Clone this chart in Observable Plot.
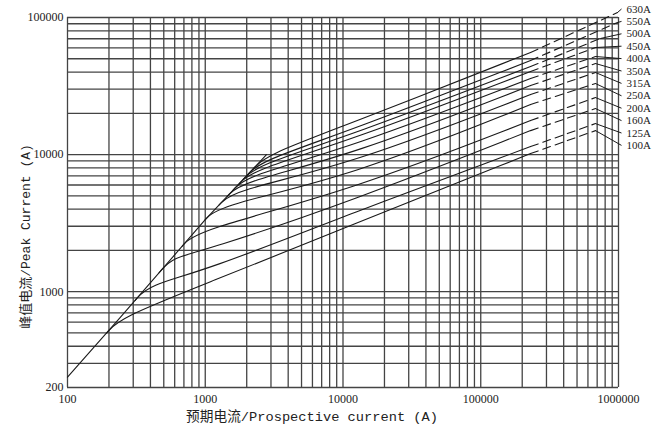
<!DOCTYPE html>
<html><head><meta charset="utf-8">
<script src="https://cdn.jsdelivr.net/npm/d3@7"></script>
<script src="https://cdn.jsdelivr.net/npm/@observablehq/plot@0.6"></script>
<style>
html,body{margin:0;padding:0;background:#fff;}
#chart{width:652px;height:430px;}
</style></head><body><div id="chart"></div>
<script>
// ---- data ----
const ratings = ["100A","125A","160A","200A","250A","315A","350A","400A","450A","500A","550A","630A"];
const xTicks = [100, 1000, 10000, 100000, 1000000];
const yTicks = [200, 1000, 10000, 100000];
// common rising envelope (unlimited peak)
const envelope = [[100, 238], [240, 645], [1000, 3350], [2784, 9980]];
// solid part of each cut-off curve, one array per rating
const c100 = [[192, 499], [240, 645], [1000, 1140], [11300, 3030], [230000, 10170]];
const c125 = [[310, 865], [387, 1119], [1000, 1420], [11300, 3710], [230000, 11440]];
const c160 = [[462, 1374], [578, 1778], [1000, 2000], [11300, 4540], [230000, 14960]];
const c200 = [[680, 2145], [850, 2775], [11300, 5460], [230000, 17710]];
const c250 = [[1000, 3350], [1248, 4241], [11300, 6910], [230000, 23170]];
const c315 = [[1262, 4292], [1577, 5447], [11300, 8450], [230000, 27400]];
const c350 = [[1442, 4949], [1803, 6282], [11300, 9830], [230000, 31880]];
const c400 = [[1594, 5507], [1993, 6988], [11300, 11250], [230000, 35890]];
const c450 = [[1734, 6023], [2167, 7636], [11300, 12650], [230000, 40360]];
const c500 = [[1885, 6586], [2356, 8351], [11300, 13760], [230000, 43870]];
const c550 = [[2014, 7065], [2518, 8965], [11300, 14960], [230000, 48530]];
const c630 = [[2227, 7866], [2784, 9980], [11300, 16830], [230000, 55530]];
// end of the dashed extension of each curve (same order as ratings)
const dashEnds = [[681000, 14960], [681000, 16830], [681000, 21660], [681000, 26060],
  [681000, 32980], [681000, 39680], [681000, 46150], [681000, 51930],
  [681000, 60390], [740000, 70300], [984000, 91940], [984000, 108800]];

// ---- layout ----
const W = 652, H = 430, mt = 17, mr = 34, mb = 43, ml = 67;
const solid = [c100, c125, c160, c200, c250, c315, c350, c400, c450, c500, c550, c630];
const solidRows = solid.flatMap((pts, i) => pts.map(([x, y]) => ({rating: ratings[i], x, y})));
const dashRows = solid.flatMap((pts, i) => {
  const last = pts[pts.length - 1];
  return [{rating: ratings[i], x: last[0], y: last[1]}, {rating: ratings[i], x: dashEnds[i][0], y: dashEnds[i][1]}];
});
const envRows = envelope.map(([x, y]) => ({x, y}));
const yScale = Plot.scale({y: {type: "log", domain: [200, 100000], range: [H - mb, mt]}});
const xScale = Plot.scale({x: {type: "log", domain: [100, 1000000], range: [ml, W - mr]}});
const leaderX = xScale.invert(W - mr + 3);
const labelRows = ratings.map((r, i) => ({
  rating: r,
  ex: dashEnds[i][0], ey: dashEnds[i][1],
  ly: yScale.invert(8.5 + 12.4 * (ratings.length - 1 - i))
}));
const xGrid = d3.scaleLog().domain([100, 1000000]).ticks();
const yGrid = d3.scaleLog().domain([200, 100000]).ticks();
const mixFont = "'Liberation Mono','Noto Sans CJK SC',monospace";

const chart = Plot.plot({
  width: W, height: H,
  marginTop: mt, marginRight: mr, marginBottom: mb, marginLeft: ml,
  style: {fontFamily: "'Liberation Serif', serif", fontSize: "12px", background: "#fff", color: "#222"},
  x: {type: "log", domain: [100, 1000000]},
  y: {type: "log", domain: [200, 100000]},
  marks: [
    Plot.ruleX(xGrid, {stroke: "#444", strokeWidth: 1.3}),
    Plot.ruleY(yGrid, {stroke: "#444", strokeWidth: 1.3}),
    Plot.line(envRows, {x: "x", y: "y", stroke: "#1a1a1a", strokeWidth: 1.1}),
    Plot.line(solidRows, {x: "x", y: "y", z: "rating", stroke: "#1a1a1a", strokeWidth: 1.1, curve: "basis"}),
    Plot.line(dashRows, {x: "x", y: "y", z: "rating", stroke: "#1a1a1a", strokeWidth: 1.1, strokeDasharray: "8,5"}),
    Plot.link(labelRows, {x1: "ex", y1: "ey", x2: leaderX, y2: "ly", stroke: "#1a1a1a", strokeWidth: 1}),
    Plot.text(labelRows, {x: 1000000, y: "ly", text: "rating", dx: 8, textAnchor: "start", fontSize: 11, fill: "#222"}),
    Plot.axisX(xTicks, {tickSize: 0, tickPadding: 7, tickFormat: d => String(d), label: null, fontSize: 12}),
    Plot.axisY(yTicks, {tickSize: 0, tickPadding: 4, tickFormat: d => String(d), label: null, fontSize: 12}),
    Plot.text(["预期电流/Prospective current (A)"], {frameAnchor: "bottom", dx: -31, dy: 33, fontSize: 13.7, fontFamily: mixFont, fill: "#222"}),
    Plot.text(["峰值电流/Peak Current (A)"], {frameAnchor: "left", textAnchor: "middle", rotate: -90, dx: -42, dy: 34, fontSize: 13, fontFamily: mixFont, fill: "#222"})
  ]
});
document.getElementById("chart").appendChild(chart);
</script>
</body></html>
